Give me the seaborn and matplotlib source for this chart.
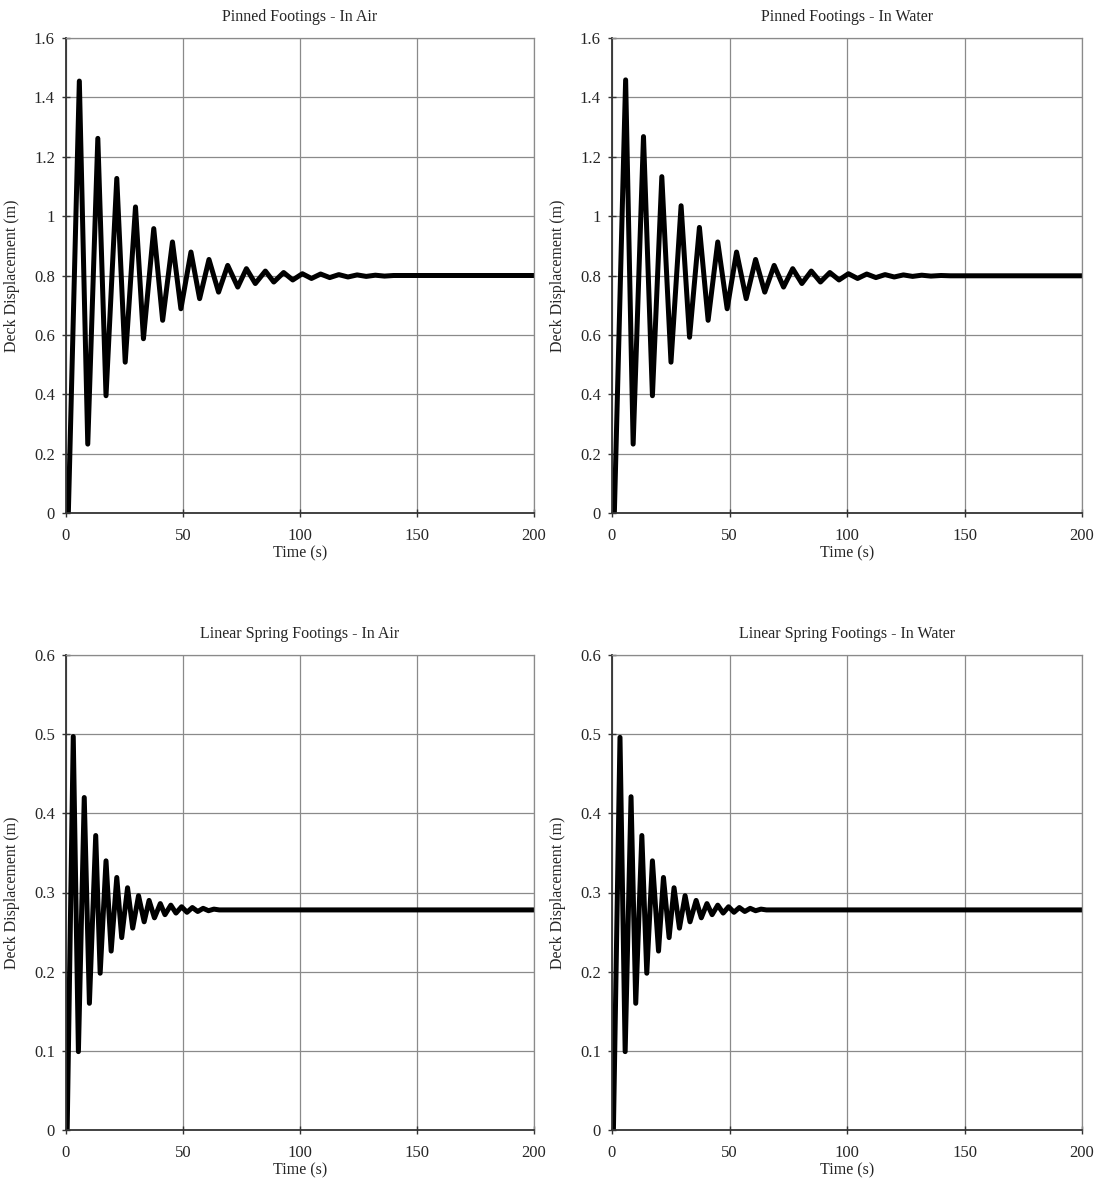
import seaborn as sns
import matplotlib.pyplot as plt
import pandas as pd

# peaks / troughs
t_pin_air = [0, 1, 5.7, 9.3, 13.6, 17.1, 21.7, 25.3, 29.7, 33.1, 37.5, 41.3, 45.5, 49.1,
             53.4, 57.1, 61.1, 65.2, 69.1, 73.4, 77.1, 80.9, 85.2, 88.8, 93.0, 96.9,
             101.0, 104.9, 108.8, 112.7, 116.6, 120.5, 124.4, 128.3, 132.2, 136.1, 140, 144, 200]
d_pin_air = [0, 0, 1.455, 0.232, 1.262, 0.395, 1.127, 0.508, 1.031, 0.587, 0.958, 0.649, 0.913, 0.688,
             0.879, 0.722, 0.854, 0.744, 0.834, 0.761, 0.823, 0.773, 0.815, 0.778, 0.810, 0.785,
             0.806, 0.790, 0.805, 0.793, 0.803, 0.795, 0.802, 0.797, 0.801, 0.798, 0.800, 0.800, 0.800]

t_pin_wat = [0, 1, 5.8, 9.0, 13.4, 17.2, 21.2, 25.1, 29.4, 33.0, 37.2, 40.9, 45.0, 49.0,
             53.0, 57.1, 61.1, 65.0, 69.0, 73.0, 76.9, 80.8, 84.8, 88.7, 92.7, 96.6,
             100.6, 104.5, 108.4, 112.3, 116.2, 120.1, 124.0, 127.9, 131.8, 135.7, 140, 144, 200]
d_pin_wat = [0, 0, 1.459, 0.232, 1.268, 0.395, 1.133, 0.508, 1.035, 0.592, 0.962, 0.649, 0.913, 0.688,
             0.879, 0.722, 0.854, 0.744, 0.834, 0.761, 0.823, 0.773, 0.815, 0.778, 0.810, 0.785,
             0.806, 0.790, 0.805, 0.793, 0.803, 0.795, 0.802, 0.797, 0.801, 0.798, 0.800, 0.799, 0.799]

t_spr_air = [0, 0.5, 3.1, 5.3, 7.8, 10.0, 12.7, 14.6, 17.1, 19.3, 21.7, 23.8, 26.3, 28.5,
             31.0, 33.4, 35.5, 37.8, 40.3, 42.3, 44.8, 47.0, 49.4, 51.7, 54.0, 56.3,
             58.6, 60.9, 63.2, 65.5, 70, 200]
d_spr_air = [0, 0, 0.497, 0.099, 0.420, 0.160, 0.372, 0.198, 0.340, 0.226, 0.319, 0.243, 0.306, 0.255,
             0.296, 0.263, 0.290, 0.268, 0.286, 0.272, 0.284, 0.274, 0.282, 0.275, 0.281, 0.276,
             0.280, 0.277, 0.279, 0.278, 0.278, 0.278]

t_spr_wat = [0, 0.6, 3.4, 5.6, 8.1, 10.1, 12.7, 14.8, 17.2, 19.8, 21.9, 24.3, 26.4, 28.7,
             31.1, 33.2, 35.8, 38.0, 40.4, 42.6, 45.0, 47.3, 49.6, 51.9, 54.2, 56.5,
             58.8, 61.1, 63.4, 65.7, 70, 200]
d_spr_wat = [0, 0, 0.496, 0.099, 0.421, 0.160, 0.372, 0.198, 0.340, 0.226, 0.319, 0.243, 0.306, 0.255,
             0.296, 0.263, 0.290, 0.268, 0.286, 0.272, 0.284, 0.274, 0.282, 0.275, 0.281, 0.276,
             0.280, 0.277, 0.279, 0.278, 0.278, 0.278]

titles = ['Pinned Footings - In Air', 'Pinned Footings - In Water',
          'Linear Spring Footings - In Air', 'Linear Spring Footings - In Water']
series = [(t_pin_air, d_pin_air), (t_pin_wat, d_pin_wat),
          (t_spr_air, d_spr_air), (t_spr_wat, d_spr_wat)]
x_ticks = [0, 50, 100, 150, 200]
y_ticks_pin = [0, 0.2, 0.4, 0.6, 0.8, 1, 1.2, 1.4, 1.6]
y_ticks_spr = [0, 0.1, 0.2, 0.3, 0.4, 0.5, 0.6]

sns.set_theme(style='white')
plt.rcParams['font.family'] = ['Liberation Serif', 'DejaVu Serif']

fig = plt.figure(figsize=(11.02, 11.9), dpi=100)
W, H = 1102, 1190
boxes = [(66, 38, 534, 513), (612, 38, 1082, 513),
         (66, 655, 534, 1130), (612, 655, 1082, 1130)]
fs = 11.5

for i in range(4):
    l, tp, r, b = boxes[i]
    ax = fig.add_axes([l / W, 1 - b / H, (r - l) / W, (b - tp) / H])
    df = pd.DataFrame({'t': series[i][0], 'd': series[i][1]})
    sns.lineplot(data=df, x='t', y='d', ax=ax, color='black', linewidth=3.6,
                 sort=False, estimator=None, solid_joinstyle='round', solid_capstyle='round')
    yt = y_ticks_pin if i < 2 else y_ticks_spr
    ax.set_xlim(0, 200)
    ax.set_ylim(0, yt[-1])
    ax.set_xticks(x_ticks)
    ax.set_yticks(yt)
    ax.set_xticklabels([str(v) for v in x_ticks])
    ax.set_yticklabels(['%g' % v for v in yt])
    ax.grid(True, color='#8a8a8a', linewidth=0.9)
    ax.set_axisbelow(True)
    for s in ['left', 'bottom']:
        ax.spines[s].set_color('#333333')
        ax.spines[s].set_linewidth(1.3)
    for s in ['top', 'right']:
        ax.spines[s].set_color('#8a8a8a')
        ax.spines[s].set_linewidth(0.9)
    ax.tick_params(axis='both', direction='inout', length=6, width=1, color='#333333',
                   labelsize=12, left=True, bottom=True)
    ax.tick_params(axis='x', pad=8)
    ax.tick_params(axis='y', pad=5)
    ax.set_title(titles[i], fontsize=fs, pad=12)
    ax.set_xlabel('Time (s)', fontsize=fs, labelpad=1)
    ax.set_ylabel('Deck Displacement (m)', fontsize=fs, labelpad=10)

fig.savefig('out.png', dpi=100, facecolor='white')
